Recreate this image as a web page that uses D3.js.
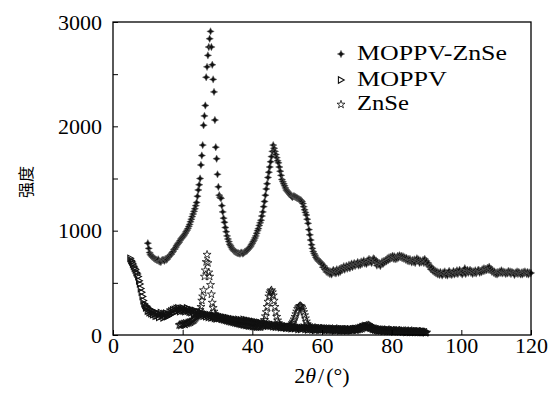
<!DOCTYPE html>
<html>
<head>
<meta charset="utf-8">
<script src="https://cdn.jsdelivr.net/npm/d3@7"></script>
<style>
  body { margin: 0; background: #fff; }
</style>
</head>
<body>
<div id="chart"></div>
<script>
// XRD patterns, 2θ sampled on a regular grid (start + i * step)
const xTicks = [0, 20, 40, 60, 80, 100, 120];
const yTicks = [0, 500, 1000, 1500, 2000, 2500, 3000];
const seriesNames = ["MOPPV-ZnSe", "MOPPV", "ZnSe"];

const compositeStart = 10, compositeStep = 0.25;
const compositeValues = [
  880, 830, 790, 770, 760, 750, 745, 735, 730, 725,
  720, 715, 725, 705, 705, 700, 715, 720, 720, 710,
  730, 720, 725, 740, 750, 760, 770, 775, 790, 800,
  820, 825, 840, 855, 870, 880, 890, 905, 920, 930,
  940, 950, 960, 975, 990, 1005, 1020, 1040, 1060, 1085,
  1110, 1135, 1160, 1185, 1210, 1240, 1270, 1330, 1390, 1440,
  1500, 1630, 1720, 1820, 2010, 2100, 2200, 2470, 2570, 2680,
  2760, 2840, 2910, 2760, 2590, 2450, 2330, 2060, 1800, 1690,
  1540, 1420, 1340, 1320, 1310, 1240, 1180, 1120, 1080, 1030,
  990, 950, 920, 895, 870, 855, 840, 825, 815, 805,
  800, 795, 790, 785, 785, 780, 780, 790, 790, 780,
  785, 795, 800, 805, 810, 820, 830, 840, 850, 865,
  880, 895, 910, 930, 950, 975, 1000, 1020, 1050, 1075,
  1100, 1140, 1180, 1230, 1280, 1340, 1400, 1450, 1510, 1560,
  1610, 1660, 1710, 1760, 1820, 1790, 1760, 1730, 1700, 1670,
  1650, 1610, 1570, 1530, 1490, 1470, 1450, 1430, 1410, 1390,
  1380, 1370, 1360, 1350, 1340, 1330, 1320, 1330, 1330, 1325,
  1320, 1315, 1310, 1305, 1300, 1295, 1290, 1280, 1260, 1230,
  1200, 1175, 1150, 1110, 1070, 1010, 960, 910, 865, 830,
  800, 780, 765, 745, 730, 720, 710, 705, 700, 690,
  680, 650, 665, 630, 640, 605, 625, 595, 615, 585,
  610, 580, 605, 625, 595, 615, 590, 630, 610, 595,
  635, 605, 645, 620, 640, 660, 625, 645, 665, 635,
  650, 675, 640, 665, 685, 650, 670, 690, 660, 680,
  675, 700, 665, 690, 670, 705, 680, 695, 715, 685,
  700, 680, 715, 695, 730, 700, 720, 690, 715, 735,
  730, 700, 715, 665, 700, 675, 690, 660, 685, 705,
  680, 710, 695, 720, 705, 735, 715, 745, 725, 750,
  735, 760, 730, 755, 725, 745, 730, 760, 740, 765,
  745, 760, 735, 755, 730, 745, 720, 740, 710, 730,
  705, 730, 715, 695, 720, 700, 725, 690, 715, 735,
  710, 725, 690, 715, 695, 705, 720, 690, 730, 700,
  710, 675, 690, 655, 660, 630, 650, 615, 630, 600,
  615, 590, 610, 580, 600, 575, 605, 585, 570, 600,
  585, 610, 575, 595, 570, 600, 615, 580, 600, 575,
  590, 615, 580, 605, 590, 620, 585, 600, 625, 595,
  605, 580, 610, 595, 640, 585, 610, 625, 595, 615,
  625, 595, 615, 585, 610, 595, 620, 590, 605, 620,
  625, 595, 615, 600, 630, 610, 640, 615, 635, 620,
  645, 625, 655, 620, 635, 605, 620, 595, 610, 585,
  600, 580, 605, 590, 610, 595, 620, 590, 610, 595,
  605, 585, 600, 590, 615, 595, 610, 585, 605, 600,
  595, 575, 600, 590, 610, 585, 605, 595, 580, 600,
  580, 605, 590, 610, 600, 585, 605, 580, 600, 590,
  595
];

const moppvStart = 5, moppvStep = 0.25;
const moppvValues = [
  735, 715, 700, 680, 660, 640, 625, 600, 585, 560,
  520, 490, 445, 410, 370, 330, 300, 285, 260, 275,
  230, 255, 215, 240, 205, 230, 195, 225, 200, 180,
  215, 185, 205, 170, 200, 215, 180, 195, 165, 205,
  180, 210, 175, 200, 185, 220, 195, 230, 205, 240,
  215, 245, 225, 255, 230, 260, 240, 225, 255, 235,
  260, 230, 250, 225, 245, 260, 230, 250, 220, 240,
  215, 240, 225, 205, 235, 210, 225, 200, 220, 195,
  215, 190, 210, 195, 180, 205, 190, 175, 200, 185,
  170, 195, 180, 165, 190, 170, 185, 160, 175, 155,
  185, 170, 160, 180, 165, 155, 175, 160, 150, 170,
  155, 145, 165, 150, 140, 160, 145, 135, 155, 140,
  135, 150, 140, 130, 150, 135, 125, 145, 130, 125,
  150, 135, 125, 145, 130, 120, 140, 125, 115, 135,
  120, 110, 130, 115, 105, 125, 110, 100, 120, 105,
  115, 100, 95, 115, 100, 90, 110, 95, 85, 105,
  95, 85, 105, 90, 80, 100, 85, 75, 95, 85,
  75, 95, 80, 70, 90, 80, 70, 85, 75, 65,
  85, 75, 65, 80, 70, 60, 80, 65, 75, 60,
  70, 80, 65, 55, 75, 65, 55, 70, 60, 75,
  65, 55, 70, 60, 50, 70, 60, 55, 65, 50,
  65, 55, 45, 60, 50, 65, 55, 45, 60, 50,
  60, 50, 65, 55, 45, 60, 50, 55, 45, 60,
  50, 55, 45, 60, 50, 40, 55, 50, 45, 55,
  50, 40, 55, 45, 50, 40, 55, 45, 50, 40,
  50, 45, 55, 40, 50, 45, 55, 50, 60, 55,
  60, 50, 65, 55, 70, 65, 75, 80, 75, 85,
  90, 80, 85, 75, 80, 70, 65, 70, 60, 55,
  60, 50, 55, 45, 50, 40, 50, 45, 40, 50,
  45, 35, 45, 40, 50, 35, 45, 40, 35, 45,
  40, 35, 45, 30, 40, 35, 45, 30, 40, 35,
  30, 40, 35, 30, 40, 30, 35, 25, 35, 30,
  35, 25, 35, 30, 25, 35, 30, 25, 30, 35,
  25, 30, 35, 25, 30, 25, 35, 30, 25, 30,
  30
];

const znseStart = 19, znseStep = 0.25;
const znseValues = [
  95, 100, 90, 105, 100, 110, 105, 100, 115, 110, 120, 115, 125, 120, 130, 135,
  140, 145, 155, 165, 175, 185, 200, 215, 240, 270, 330, 370, 430, 560, 620, 700,
  770, 690, 600, 560, 480, 390, 310, 260, 225, 200, 185, 175, 170,
  165, 160, 165, 155, 150, 155, 145, 150, 140, 145, 135, 140, 130, 135, 125, 130,
  125, 120, 125, 115, 120, 110, 115, 110, 105, 110, 100, 105, 100, 95, 100, 95,
  90, 95, 90, 85, 90, 85, 90, 80, 85, 80, 85, 80, 75, 80, 75, 80,
  75, 80, 90, 100, 120, 145, 180, 220, 270, 320, 370, 400, 420, 430, 410, 380,
  330, 270, 220, 175, 140, 115, 100, 90, 85, 80, 75, 80, 75, 70, 75, 70,
  75, 80, 85, 90, 100, 115, 130, 150, 175, 200, 225, 250, 265, 275, 280, 275,
  265, 245, 220, 190, 160, 130, 105, 90, 80, 75,
  70, 65, 70, 60, 65, 70, 60, 65, 60, 65, 55, 60, 65, 55, 60, 55,
  60, 55, 60, 50, 55, 60, 55, 50, 55, 60, 50, 55, 50, 55, 60, 50,
  55, 50, 55, 50, 45, 55, 50, 55, 50, 45, 55, 50, 45, 50, 55, 50,
  45, 50, 55, 50, 45, 55, 50, 55, 60, 55, 65, 60, 70, 75, 80, 85,
  90, 85, 95, 90, 85, 80, 75, 70, 65, 60, 55, 60, 50, 55, 50, 45,
  50, 45, 50, 40, 45, 50, 40, 45, 40, 45, 50, 40, 45, 40, 35, 45,
  40, 35, 45, 40, 35, 40, 45, 35, 40, 35, 30, 40, 35, 40, 30, 35,
  40, 35, 30, 35, 40, 30, 35, 30, 35, 30, 35, 25, 30, 35, 30, 25,
  30, 25, 30, 25, 20, 25
];

const width = 550, height = 396;
const margin = {top: 22, right: 19, bottom: 61, left: 113};
const serifFont = "Liberation Serif";

const toPoints = (start, step, values) => values.map((v, i) => ({x: start + i * step, y: v}));

const svg = d3.select("#chart").append("svg")
  .attr("width", width)
  .attr("height", height);

svg.append("rect").attr("width", width).attr("height", height).attr("fill", "#fff");

const x = d3.scaleLinear().domain([0, 120]).range([margin.left, width - margin.right]);
const y = d3.scaleLinear().domain([0, 3000]).range([height - margin.bottom, margin.top]);

// marker shapes
const starPath = "M0,-3.7L1.2,-1.2L3.7,0L1.2,1.2L0,3.7L-1.2,1.2L-3.7,0L-1.2,-1.2Z";
const triPath = "M-2.6,-3.2L3.2,0L-2.6,3.2Z";
const smallStar = d3.symbol().type(d3.symbolStar).size(20)();

const markers = {
  "MOPPV-ZnSe": g => g.append("path").attr("d", starPath).attr("fill", "#111").attr("stroke", "#666").attr("stroke-width", 0.5),
  "MOPPV": g => g.append("path").attr("d", triPath).attr("fill", "none").attr("stroke", "#111").attr("stroke-width", 1.1),
  "ZnSe": g => g.append("path").attr("d", smallStar).attr("fill", "none").attr("stroke", "#111").attr("stroke-width", 0.8)
};

const seriesData = {
  "MOPPV-ZnSe": toPoints(compositeStart, compositeStep, compositeValues),
  "MOPPV": toPoints(moppvStart, moppvStep, moppvValues),
  "ZnSe": toPoints(znseStart, znseStep, znseValues)
};

// draw points: MOPPV first, then ZnSe, composite on top
["MOPPV", "ZnSe", "MOPPV-ZnSe"].forEach(name => {
  const g = svg.append("g").attr("class", "series");
  g.selectAll("g.pt")
    .data(seriesData[name])
    .enter().append("g")
    .attr("class", "pt")
    .attr("transform", d => `translate(${x(d.x)},${y(d.y)})`)
    .each(function () { markers[name](d3.select(this)); });
});

// axes with inward ticks
const xAxis = svg.append("g")
  .attr("transform", `translate(0,${height - margin.bottom})`)
  .call(d3.axisBottom(x).tickValues(xTicks).tickSize(-5).tickPadding(2));
const yAxis = svg.append("g")
  .attr("transform", `translate(${margin.left},0)`)
  .call(d3.axisLeft(y).tickValues(yTicks).tickSize(-5).tickPadding(11)
    .tickFormat(d => d % 1000 === 0 ? d : ""));

[xAxis, yAxis].forEach(a => {
  a.attr("font-family", serifFont).attr("font-size", 22);
  a.select(".domain").remove();
  a.selectAll(".tick line").attr("stroke", "#000").attr("stroke-width", 1);
  a.selectAll("text").attr("fill", "#000").attr("font-family", serifFont).attr("font-size", 22);
});

// frame
svg.append("rect")
  .attr("x", margin.left).attr("y", margin.top)
  .attr("width", width - margin.left - margin.right)
  .attr("height", height - margin.top - margin.bottom)
  .attr("fill", "none").attr("stroke", "#000").attr("stroke-width", 1.3);

// axis titles
const xt = svg.append("text")
  .attr("x", (margin.left + width - margin.right) / 2)
  .attr("y", 383)
  .attr("text-anchor", "middle")
  .attr("font-family", serifFont)
  .attr("font-size", 22);
xt.append("tspan").text("2");
xt.append("tspan").attr("font-style", "italic").text("θ");
xt.append("tspan").attr("dx", 2).text("/");
xt.append("tspan").attr("dx", 2).text("(°)");

svg.append("text")
  .attr("transform", "translate(32,182) rotate(-90)")
  .attr("text-anchor", "middle")
  .attr("font-family", "Noto Sans CJK SC")
  .attr("font-size", 16)
  .text("强度");

// legend
const legendY = [54, 80, 104.5];
const legendWidth = [150, 90, 52];
seriesNames.forEach((name, i) => {
  const g = svg.append("g").attr("transform", `translate(341,${legendY[i]})`);
  markers[name](g);
  g.append("text")
    .attr("x", 16)
    .attr("y", 5.5)
    .attr("font-family", serifFont)
    .attr("font-size", 21)
    .attr("textLength", legendWidth[i])
    .attr("lengthAdjust", "spacingAndGlyphs")
    .text(name);
});
</script>
</body>
</html>
